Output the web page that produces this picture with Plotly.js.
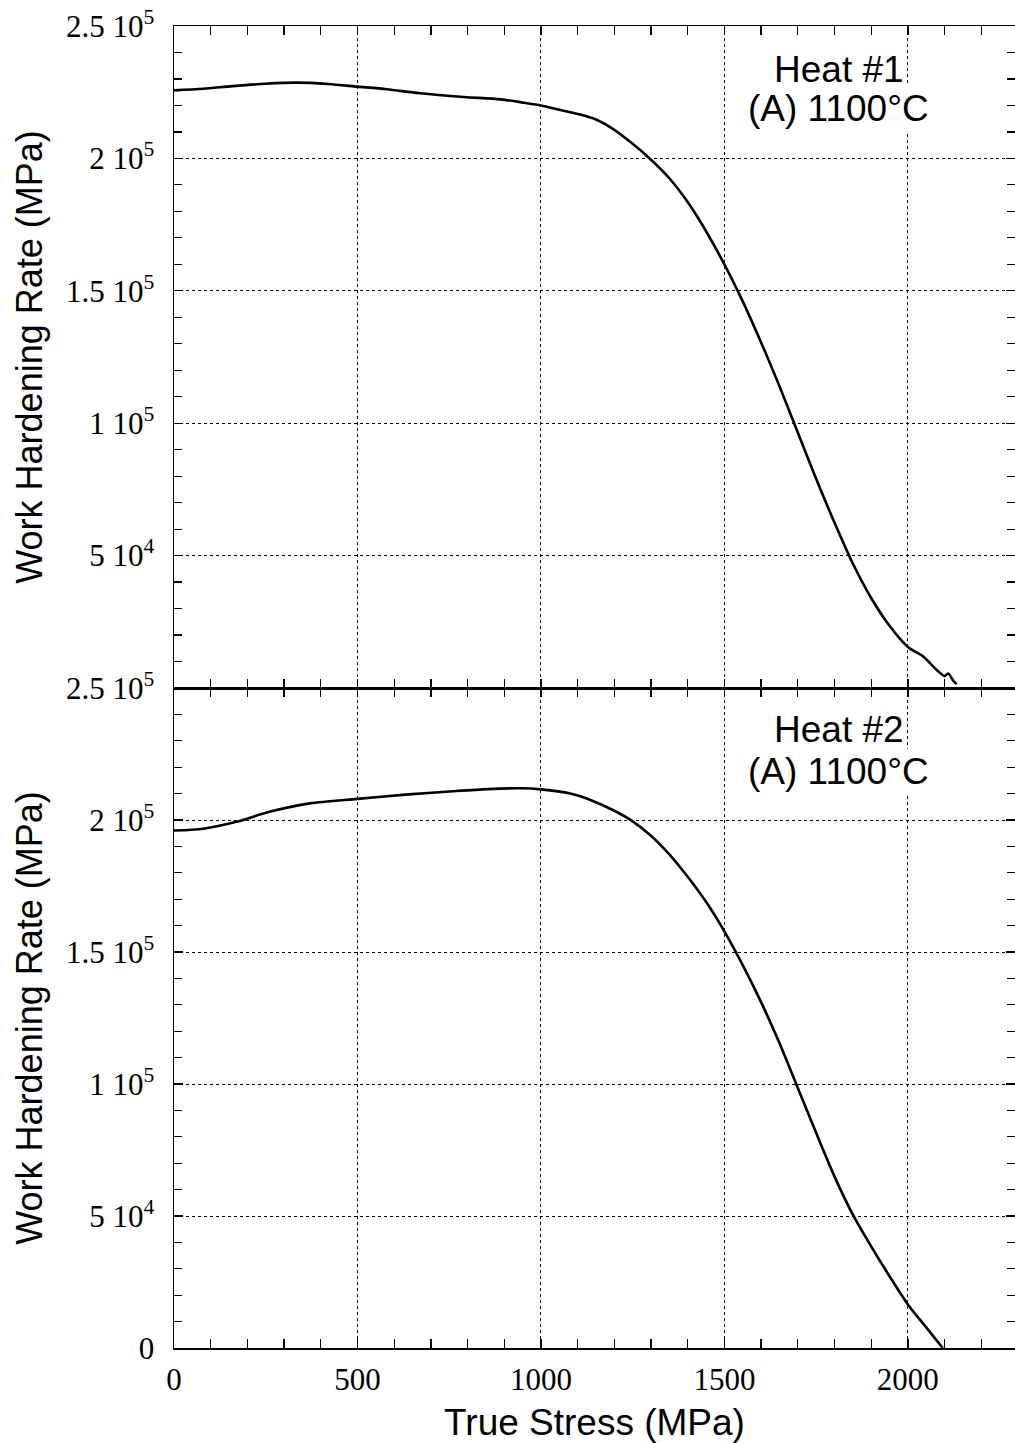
<!DOCTYPE html>
<html>
<head>
<meta charset="utf-8">
<script src="https://cdn.plot.ly/plotly-3.0.1.min.js"></script>
<style>html,body{margin:0;padding:0;background:#fff;overflow:hidden;}</style>
</head>
<body>
<div id="chart"></div>
<script>
// Heat #1 (top panel)
const heat1Stress = [0, 80, 160, 250, 335, 420, 500, 580, 670, 790, 890, 955, 1000, 1050, 1100, 1150, 1200, 1250, 1300, 1350, 1400, 1450, 1500, 1550, 1600, 1650, 1700, 1750, 1800, 1850, 1900, 1950, 2000, 2041, 2079, 2100, 2110, 2125, 2133];
const heat1Rate = [225700, 226300, 227300, 228200, 228600, 228100, 227100, 226100, 224600, 223200, 222300, 221000, 220000, 218400, 216800, 214700, 210800, 205500, 199500, 192500, 183500, 172500, 160000, 146000, 130500, 114000, 96500, 79000, 62500, 47000, 34000, 23500, 15500, 12000, 6800, 4500, 5500, 2500, 1500];
// Heat #2 (bottom panel)
const heat2Stress = [0, 80, 170, 260, 370, 500, 630, 760, 855, 945, 1000, 1080, 1140, 1200, 1250, 1300, 1350, 1400, 1450, 1500, 1550, 1600, 1650, 1700, 1750, 1800, 1850, 1900, 1950, 2000, 2050, 2095];
const heat2Rate = [196000, 196700, 199300, 203100, 206300, 208000, 209600, 210900, 211700, 212000, 211600, 210000, 207300, 203500, 199500, 194000, 187000, 178500, 169000, 157800, 145000, 131000, 115500, 98500, 81500, 65000, 50500, 38500, 27200, 16500, 7800, 0];
// Tick labels
const xTickVals = [0, 500, 1000, 1500, 2000];
const xTickText = ["0", "500", "1000", "1500", "2000"];
const yTickValsTop = [50000, 100000, 150000, 200000, 250000];
const yTickTextTop = ["5 10<sup>4</sup>", "1 10<sup>5</sup>", "1.5 10<sup>5</sup>", "2 10<sup>5</sup>", "2.5 10<sup>5</sup>"];
const yTickValsBottom = [0, 50000, 100000, 150000, 200000, 250000];
const yTickTextBottom = ["0", "5 10<sup>4</sup>", "1 10<sup>5</sup>", "1.5 10<sup>5</sup>", "2 10<sup>5</sup>", "2.5 10<sup>5</sup>"];
const heatLabels = ["Heat #1", "Heat #2"];
const conditionLabel = "(A) 1100°C";

const serif = "Liberation Serif, Times New Roman, serif";
const sans = "Liberation Sans, Arial, sans-serif";

function xAxis(showLabels, anchor) {
  return {
    anchor: anchor, domain: [0, 1], range: [0, 2292],
    showline: true, linecolor: "black", linewidth: 1.5, mirror: "ticks",
    ticks: "inside", ticklen: 9, tickwidth: 1.3, tickcolor: "black",
    tickvals: xTickVals, ticktext: xTickText, showticklabels: showLabels,
    tickfont: {family: serif, size: 31, color: "black"}, ticklabelstandoff: 3,
    showgrid: true, gridcolor: "black", griddash: "dot", gridwidth: 1,
    zeroline: false,
    minor: {dtick: 100, tick0: 0, ticks: "inside", ticklen: 9, tickwidth: 1.3, tickcolor: "black", showgrid: false}
  };
}
function yAxis(domain, vals, text, anchor) {
  return {
    anchor: anchor, domain: domain, range: [0, 250000],
    showline: true, linecolor: "black", linewidth: 1.5, mirror: "ticks",
    ticks: "inside", ticklen: 9, tickwidth: 1.3, tickcolor: "black",
    tickvals: vals, ticktext: text, ticklabelstandoff: 12,
    tickfont: {family: serif, size: 31, color: "black"},
    showgrid: true, gridcolor: "black", griddash: "dot", gridwidth: 1,
    zeroline: false,
    minor: {dtick: 10000, tick0: 0, ticks: "inside", ticklen: 8, tickwidth: 1.2, tickcolor: "black", showgrid: false},
    title: {text: "Work Hardening Rate (MPa)", font: {family: sans, size: 36, color: "black"}, standoff: 12}
  };
}

const split = (1348 - 688) / 1322;
const xa1 = xAxis(false, "y");
const xa2 = xAxis(true, "y2");
xa2.title = {text: "True Stress (MPa)", font: {family: sans, size: 37, color: "black"}, standoff: 16};

const lineStyle = {color: "black", width: 2.6, shape: "spline", smoothing: 0.8};
const data = [
  {x: heat1Stress, y: heat1Rate, xaxis: "x", yaxis: "y", type: "scatter", mode: "lines", line: lineStyle, name: heatLabels[0]},
  {x: heat2Stress, y: heat2Rate, xaxis: "x2", yaxis: "y2", type: "scatter", mode: "lines", line: lineStyle, name: heatLabels[1]}
];

function label(text, xr, yr, yv) {
  return {text: text, xref: xr, yref: yr, x: 1812, y: yv, showarrow: false, yanchor: "middle",
          font: {family: sans, size: 37, color: "black"}, bgcolor: "white", borderpad: 2};
}

const layout = {
  width: 1015, height: 1443,
  margin: {l: 174, r: 0, t: 26, b: 95},
  paper_bgcolor: "white", plot_bgcolor: "white",
  showlegend: false,
  xaxis: xa1,
  xaxis2: Object.assign(xa2, {matches: "x"}),
  yaxis: yAxis([split, 1], yTickValsTop, yTickTextTop, "x"),
  yaxis2: yAxis([0, split], yTickValsBottom, yTickTextBottom, "x2"),
  annotations: [
    label(heatLabels[0], "x", "y", 233400),
    label(conditionLabel, "x", "y", 219000),
    label(heatLabels[1], "x2", "y2", 234100),
    label(conditionLabel, "x2", "y2", 218200)
  ]
};

Plotly.newPlot("chart", data, layout, {staticPlot: true, displayModeBar: false});
</script>
</body>
</html>
